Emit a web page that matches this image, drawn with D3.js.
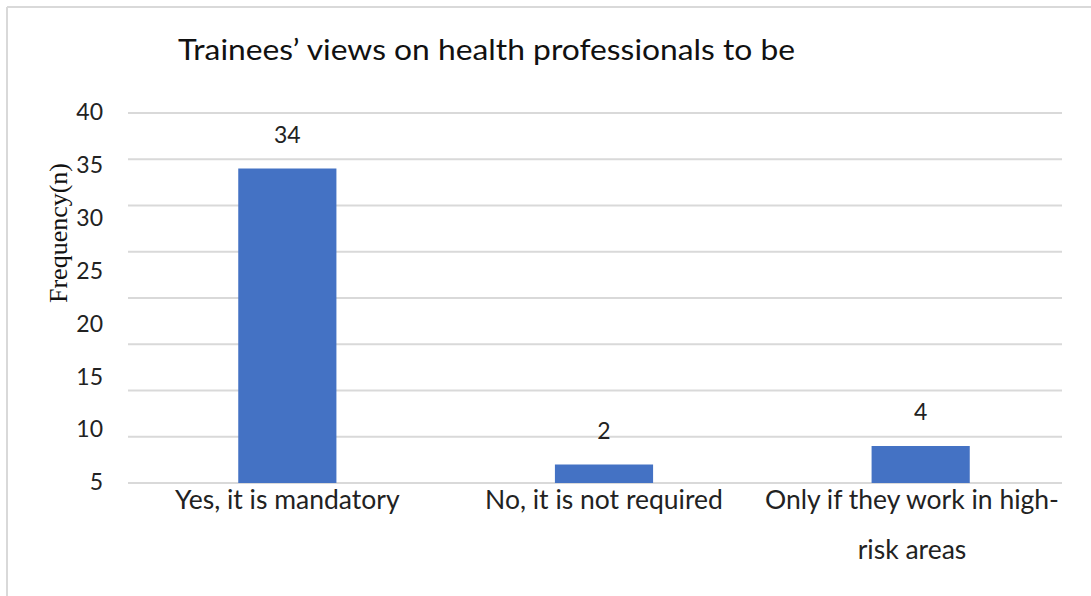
<!DOCTYPE html>
<html>
<head>
<meta charset="utf-8">
<script src="https://cdn.jsdelivr.net/npm/d3@7"></script>
<style>
  body { margin: 0; background: #fff; }
  text { font-family: Lato, "Open Sans", sans-serif; fill: #000; }
</style>
</head>
<body>
<script>
// data
var categories = ["Yes, it is mandatory", "No, it is not required", "Only if they work in high-|risk areas"]
var values = [34, 2, 4]
var tickLabels = ["5", "10", "15", "20", "25", "30", "35", "40"]
var gridValues = [0, 5, 10, 15, 20, 25, 30, 35, 40]

var W = 1091, H = 596

var svg = d3.select("body").append("svg")
  .attr("width", W)
  .attr("height", H)

// frame (only top and left edges visible)
svg.append("line").attr("x1", 7).attr("x2", W).attr("y1", 7).attr("y2", 7)
  .attr("stroke", "#d9d9d9").attr("stroke-width", 2)
svg.append("line").attr("x1", 7).attr("x2", 7).attr("y1", 7).attr("y2", H)
  .attr("stroke", "#d9d9d9").attr("stroke-width", 2)

var x = d3.scaleBand()
  .domain(categories)
  .range([129, 1079])
  .paddingInner(0.69)
  .paddingOuter(0.345)

var y = d3.scaleLinear()
  .domain([0, 40])
  .range([483, 113])

// tick labels sit on their own evenly spaced slots
var yLab = d3.scalePoint()
  .domain(tickLabels)
  .range([482, 112])

// gridlines
svg.append("g").selectAll("line")
  .data(gridValues)
  .enter().append("line")
  .attr("x1", 128).attr("x2", 1062)
  .attr("y1", function (d) { return y(d) })
  .attr("y2", function (d) { return y(d) })
  .attr("stroke", "#d9d9d9")
  .attr("stroke-width", 2)

// y labels
svg.append("g").selectAll("text")
  .data(tickLabels)
  .enter().append("text")
  .attr("x", 103)
  .attr("y", function (d) { return yLab(d) })
  .attr("dy", "0.36em")
  .attr("text-anchor", "end")
  .style("font-size", "23px")
  .style("fill", "#222")
  .text(function (d) { return d })

// bars
svg.append("g").selectAll("rect")
  .data(values)
  .enter().append("rect")
  .attr("x", function (d, i) { return x(categories[i]) })
  .attr("width", x.bandwidth())
  .attr("y", function (d) { return y(d) })
  .attr("height", function (d) { return y(0) - y(d) })
  .attr("fill", "#4472c4")

// value labels
svg.append("g").selectAll("text")
  .data(values)
  .enter().append("text")
  .attr("x", function (d, i) { return x(categories[i]) + x.bandwidth() / 2 })
  .attr("y", function (d) { return y(d) - 26 })
  .attr("text-anchor", "middle")
  .style("font-size", "23px")
  .style("fill", "#222")
  .text(function (d) { return d })

// category labels
var cat = svg.append("g").selectAll("text")
  .data(categories)
  .enter().append("text")
  .attr("text-anchor", "middle")
  .style("font-size", "26.5px")
  .style("fill", "#222")

cat.each(function (d, i) {
  var lines = d.split("|")
  var cx = x(d) + x.bandwidth() / 2
  if (lines.length > 1) cx = 912
  var t = d3.select(this)
  lines.forEach(function (l, j) {
    t.append("tspan")
      .attr("x", cx)
      .attr("y", 509 + j * 50)
      .text(l)
  })
})

// title
svg.append("text")
  .attr("x", 178)
  .attr("y", 60)
  .attr("textLength", 617)
  .attr("lengthAdjust", "spacingAndGlyphs")
  .style("font-size", "28px")
  .style("fill", "#111")
  .text("Trainees\u2019 views on health professionals to be")

// y axis title
svg.append("text")
  .attr("transform", "translate(67,233) rotate(-90)")
  .attr("text-anchor", "middle")
  .style("font-family", "'Liberation Serif', 'DejaVu Serif', serif")
  .style("font-size", "26px")
  .style("fill", "#111")
  .text("Frequency(n)")
</script>
</body>
</html>
